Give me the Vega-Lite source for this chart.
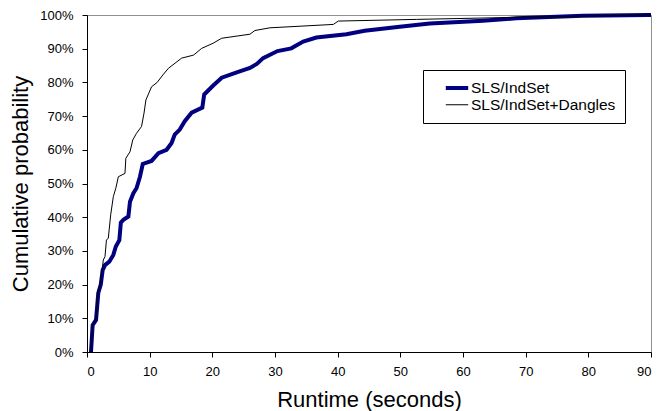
{
  "$schema": "https://vega.github.io/schema/vega-lite/v6.json",
  "width": 564,
  "height": 337,
  "autosize": {"type": "none"},
  "padding": {"left": 87, "top": 15, "right": 9, "bottom": 59},
  "background": "white",
  "config": {
    "view": {"stroke": "#909090", "strokeWidth": 1},
    "font": "Liberation Sans",
    "axis": {
      "grid": false,
      "domainColor": "black",
      "tickColor": "black",
      "tickSize": 5,
      "labelColor": "black",
      "titleColor": "black",
      "labelFont": "Liberation Sans",
      "titleFont": "Liberation Sans",
      "labelFontSize": 13,
      "titleFontSize": 22,
      "titleFontWeight": "normal"
    },
    "legend": {
      "labelFont": "Liberation Sans",
      "labelFontSize": 15.5,
      "labelColor": "black"
    }
  },
  "data": {
    "values": [
      {"t": 0.64, "p": 0, "s": "SLS/IndSet"},
      {"t": 0.9, "p": 8, "s": "SLS/IndSet"},
      {"t": 1.44, "p": 9.5, "s": "SLS/IndSet"},
      {"t": 1.8, "p": 17.5, "s": "SLS/IndSet"},
      {"t": 2.2, "p": 20, "s": "SLS/IndSet"},
      {"t": 2.5, "p": 24.3, "s": "SLS/IndSet"},
      {"t": 2.87, "p": 25.8, "s": "SLS/IndSet"},
      {"t": 3.56, "p": 26.8, "s": "SLS/IndSet"},
      {"t": 4.2, "p": 28.8, "s": "SLS/IndSet"},
      {"t": 4.6, "p": 31.3, "s": "SLS/IndSet"},
      {"t": 5.16, "p": 33.2, "s": "SLS/IndSet"},
      {"t": 5.4, "p": 38.4, "s": "SLS/IndSet"},
      {"t": 5.8, "p": 39.2, "s": "SLS/IndSet"},
      {"t": 6.6, "p": 40.2, "s": "SLS/IndSet"},
      {"t": 6.86, "p": 44.6, "s": "SLS/IndSet"},
      {"t": 7.4, "p": 47.1, "s": "SLS/IndSet"},
      {"t": 7.9, "p": 48.6, "s": "SLS/IndSet"},
      {"t": 8.45, "p": 52, "s": "SLS/IndSet"},
      {"t": 8.9, "p": 55.8, "s": "SLS/IndSet"},
      {"t": 10.3, "p": 56.7, "s": "SLS/IndSet"},
      {"t": 11.4, "p": 59, "s": "SLS/IndSet"},
      {"t": 12.7, "p": 60, "s": "SLS/IndSet"},
      {"t": 13.5, "p": 62, "s": "SLS/IndSet"},
      {"t": 14.0, "p": 64.5, "s": "SLS/IndSet"},
      {"t": 14.8, "p": 66, "s": "SLS/IndSet"},
      {"t": 15.6, "p": 68.5, "s": "SLS/IndSet"},
      {"t": 16.7, "p": 71, "s": "SLS/IndSet"},
      {"t": 18.4, "p": 72.5, "s": "SLS/IndSet"},
      {"t": 18.7, "p": 76.4, "s": "SLS/IndSet"},
      {"t": 20.1, "p": 79, "s": "SLS/IndSet"},
      {"t": 21.5, "p": 81.4, "s": "SLS/IndSet"},
      {"t": 23.9, "p": 83, "s": "SLS/IndSet"},
      {"t": 26, "p": 84.3, "s": "SLS/IndSet"},
      {"t": 27.1, "p": 85.5, "s": "SLS/IndSet"},
      {"t": 28.1, "p": 87.2, "s": "SLS/IndSet"},
      {"t": 30.4, "p": 89.3, "s": "SLS/IndSet"},
      {"t": 32.6, "p": 90.1, "s": "SLS/IndSet"},
      {"t": 34.5, "p": 92.1, "s": "SLS/IndSet"},
      {"t": 36.6, "p": 93.3, "s": "SLS/IndSet"},
      {"t": 41.4, "p": 94.3, "s": "SLS/IndSet"},
      {"t": 44.3, "p": 95.3, "s": "SLS/IndSet"},
      {"t": 49.9, "p": 96.5, "s": "SLS/IndSet"},
      {"t": 54.7, "p": 97.5, "s": "SLS/IndSet"},
      {"t": 63.2, "p": 98.3, "s": "SLS/IndSet"},
      {"t": 68.5, "p": 99, "s": "SLS/IndSet"},
      {"t": 79.1, "p": 99.8, "s": "SLS/IndSet"},
      {"t": 89.5, "p": 100, "s": "SLS/IndSet"},
      {"t": 90, "p": 100, "s": "SLS/IndSet"},
      {"t": 0.64, "p": 0, "s": "SLS/IndSet+Dangles"},
      {"t": 0.9, "p": 8, "s": "SLS/IndSet+Dangles"},
      {"t": 1.44, "p": 10, "s": "SLS/IndSet+Dangles"},
      {"t": 1.8, "p": 18.5, "s": "SLS/IndSet+Dangles"},
      {"t": 2.1, "p": 20, "s": "SLS/IndSet+Dangles"},
      {"t": 2.4, "p": 24, "s": "SLS/IndSet+Dangles"},
      {"t": 2.6, "p": 27.3, "s": "SLS/IndSet+Dangles"},
      {"t": 2.87, "p": 28.3, "s": "SLS/IndSet+Dangles"},
      {"t": 3.1, "p": 33.2, "s": "SLS/IndSet+Dangles"},
      {"t": 3.4, "p": 33.8, "s": "SLS/IndSet+Dangles"},
      {"t": 3.78, "p": 40.7, "s": "SLS/IndSet+Dangles"},
      {"t": 4.2, "p": 46.1, "s": "SLS/IndSet+Dangles"},
      {"t": 4.6, "p": 48.6, "s": "SLS/IndSet+Dangles"},
      {"t": 5.0, "p": 52, "s": "SLS/IndSet+Dangles"},
      {"t": 6.06, "p": 53, "s": "SLS/IndSet+Dangles"},
      {"t": 6.2, "p": 57.5, "s": "SLS/IndSet+Dangles"},
      {"t": 6.86, "p": 59.4, "s": "SLS/IndSet+Dangles"},
      {"t": 7.3, "p": 62.9, "s": "SLS/IndSet+Dangles"},
      {"t": 7.9, "p": 64.9, "s": "SLS/IndSet+Dangles"},
      {"t": 8.7, "p": 66.9, "s": "SLS/IndSet+Dangles"},
      {"t": 9.1, "p": 70.9, "s": "SLS/IndSet+Dangles"},
      {"t": 9.4, "p": 74.8, "s": "SLS/IndSet+Dangles"},
      {"t": 10.3, "p": 78.7, "s": "SLS/IndSet+Dangles"},
      {"t": 11.2, "p": 80, "s": "SLS/IndSet+Dangles"},
      {"t": 12.1, "p": 82.2, "s": "SLS/IndSet+Dangles"},
      {"t": 13.0, "p": 84.2, "s": "SLS/IndSet+Dangles"},
      {"t": 15.1, "p": 87.2, "s": "SLS/IndSet+Dangles"},
      {"t": 17.0, "p": 88.1, "s": "SLS/IndSet+Dangles"},
      {"t": 18.3, "p": 90.1, "s": "SLS/IndSet+Dangles"},
      {"t": 20.1, "p": 91.6, "s": "SLS/IndSet+Dangles"},
      {"t": 21.5, "p": 93.1, "s": "SLS/IndSet+Dangles"},
      {"t": 26, "p": 94.3, "s": "SLS/IndSet+Dangles"},
      {"t": 26.8, "p": 95.4, "s": "SLS/IndSet+Dangles"},
      {"t": 29.2, "p": 96.2, "s": "SLS/IndSet+Dangles"},
      {"t": 39.3, "p": 97.2, "s": "SLS/IndSet+Dangles"},
      {"t": 40.1, "p": 98.2, "s": "SLS/IndSet+Dangles"},
      {"t": 52.6, "p": 98.7, "s": "SLS/IndSet+Dangles"},
      {"t": 68.5, "p": 99.3, "s": "SLS/IndSet+Dangles"},
      {"t": 89.5, "p": 100, "s": "SLS/IndSet+Dangles"},
      {"t": 90, "p": 100, "s": "SLS/IndSet+Dangles"}
    ]
  },
  "encoding": {
    "x": {
      "field": "t",
      "type": "quantitative",
      "title": "Runtime (seconds)",
      "scale": {"domain": [0, 90], "nice": false, "zero": false},
      "axis": {"values": [0, 10, 20, 30, 40, 50, 60, 70, 80, 90], "labelPadding": 8, "titlePadding": 11}
    },
    "y": {
      "field": "p",
      "type": "quantitative",
      "title": "Cumulative probability",
      "scale": {"domain": [0, 100], "nice": false},
      "axis": {
        "values": [0, 10, 20, 30, 40, 50, 60, 70, 80, 90, 100],
        "labelExpr": "datum.value + '%'",
        "labelPadding": 9,
        "titlePadding": 7
      }
    },
    "color": {
      "field": "s",
      "type": "nominal",
      "title": null,
      "scale": {"domain": ["SLS/IndSet", "SLS/IndSet+Dangles"], "range": ["#000080", "#000000"]},
      "legend": {
        "orient": "none",
        "legendX": 336,
        "legendY": 55,
        "symbolType": "M-1.6,0L1.6,0",
        "symbolSize": 196,
        "symbolOffset": 16,
        "labelOffset": 5,
        "rowPadding": 0,
        "padding": 9,
        "strokeColor": "black",
        "fillColor": "white"
      }
    },
    "strokeWidth": {
      "field": "s",
      "type": "nominal",
      "title": null,
      "scale": {"domain": ["SLS/IndSet", "SLS/IndSet+Dangles"], "range": [4, 1]}
    }
  },
  "layer": [
    {
      "transform": [{"filter": "datum.s == 'SLS/IndSet'"}],
      "mark": {"type": "line", "interpolate": "linear"}
    },
    {
      "transform": [{"filter": "datum.s == 'SLS/IndSet+Dangles'"}],
      "mark": {"type": "line", "interpolate": "linear"}
    }
  ]
}
